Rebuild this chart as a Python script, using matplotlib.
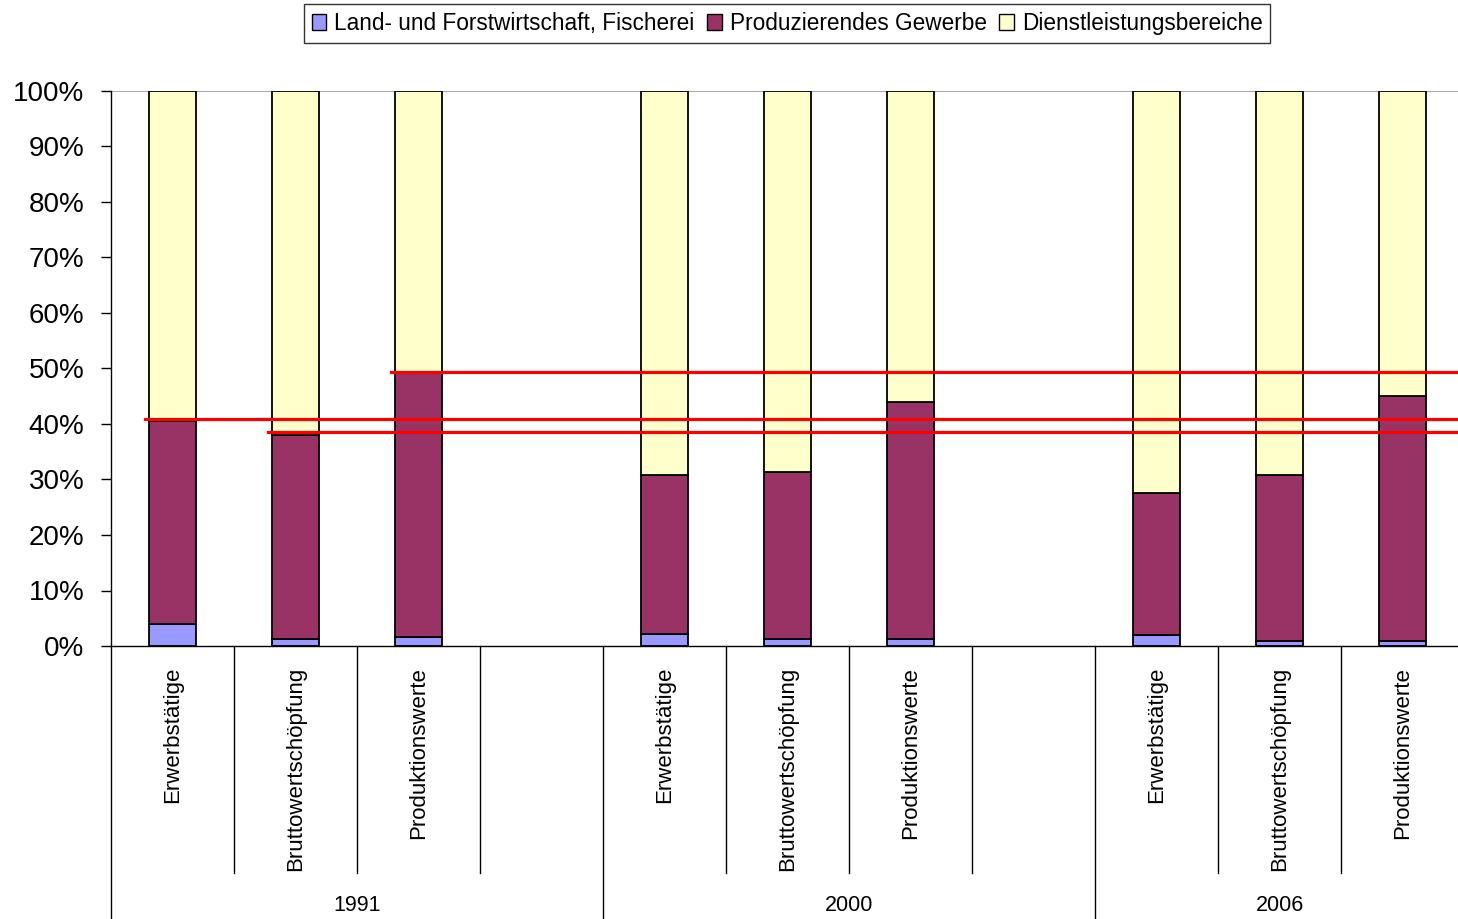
import numpy as np
import matplotlib
matplotlib.use("Agg")
import matplotlib.pyplot as plt
from matplotlib.patches import Patch

plt.rcParams['font.family'] = ['Liberation Sans', 'DejaVu Sans']

YEARS      = ["1991", "2000", "2006"]
MEASURES   = ["Erwerbstätige", "Bruttowertschöpfung", "Produktionswerte"]
SECTORS    = ["Land- und Forstwirtschaft, Fischerei", "Produzierendes Gewerbe", "Dienstleistungsbereiche"]
COLORS     = ["#9999FF", "#993366", "#FFFFCC"]

# shares in percent, order: 1991 E/B/P, 2000 E/B/P, 2006 E/B/P
land    = [4.0, 1.2, 1.6, 2.2, 1.2, 1.2, 2.0, 0.9, 0.9]
gewerbe = [36.5, 36.9, 47.5, 28.7, 30.1, 42.7, 25.6, 30.0, 44.1]
dienst  = [100 - a - b for a, b in zip(land, gewerbe)]

# red reference lines (level, starting bar index)
REF_LEVELS = [40.9, 38.6, 49.3]
REF_START  = [0, 1, 2]

def main():
  fig = plt.figure(figsize=(14.58, 9.19), dpi=100)
  ax = fig.add_axes([111/1458, 1 - 646/919, 1353/1458, 555/919])

  xs = []
  for g in range(len(YEARS)):
    for m in range(len(MEASURES)):
      xs.append(g * 4 + m)
  xs = np.array(xs)
  w = 0.39

  bottom = np.zeros(len(xs))
  for vals, col, lab in zip([land, gewerbe, dienst], COLORS, SECTORS):
    ax.bar(xs, vals, w, bottom=bottom, color=col, edgecolor="black", linewidth=1.3, label=lab, zorder=2)
    bottom = bottom + np.array(vals)

  ax.set_xlim(-0.5, 10.5)
  ax.set_ylim(0, 100)
  ax.set_yticks(np.arange(0, 101, 10))
  ax.set_yticklabels(["%d%%" % v for v in range(0, 101, 10)], fontsize=20)
  ax.tick_params(axis="y", direction="out", length=7, width=1, pad=12)
  ax.set_xticks([])
  for s in ["top", "right"]:
    ax.spines[s].set_visible(False)
  ax.spines["left"].set_linewidth(1)
  ax.spines["bottom"].set_linewidth(1)
  ax.axhline(100, color="#999999", linewidth=1.2, zorder=1)

  # red reference lines
  for lvl, i in zip(REF_LEVELS, REF_START):
    x0 = xs[i] - w / 2 - 0.03
    ax.plot([x0, 11], [lvl, lvl], color="red", linewidth=2.3, zorder=3, clip_on=False)

  # category axis: labels and separators
  trans = matplotlib.transforms.blended_transform_factory(ax.transData, ax.transAxes)
  for x, lab in zip(xs, MEASURES * len(YEARS)):
    ax.text(x, -0.038, lab, rotation=90, ha="center", va="top", fontsize=16, transform=trans)
  for b in np.arange(-0.5, 11, 1.0):
    ymin = -0.6 if b in (-0.5, 3.5, 7.5) else -0.409
    ax.plot([b, b], [0, ymin], color="black", linewidth=1, transform=trans, clip_on=False)
  for g, year in enumerate(YEARS):
    if g < 2:
      cx = g * 4 + 1.5
    else:
      cx = 9
    ax.text(cx, -0.467, year, ha="center", va="center", fontsize=15.5, transform=trans)

  handles = [Patch(facecolor=c, edgecolor="black", linewidth=1) for c in COLORS]
  leg = fig.legend(handles, SECTORS, loc="center", bbox_to_anchor=(787/1458, 1 - 23.5/919), ncol=3,
                   fontsize=16.3, frameon=True, fancybox=False, edgecolor="black",
                   handlelength=0.65, handleheight=0.65, handletextpad=0.35, columnspacing=0.55,
                   borderpad=0.35, borderaxespad=0)
  leg.get_frame().set_linewidth(1)

  fig.savefig("out.png", dpi=100)

if __name__ == "__main__":
  main()
